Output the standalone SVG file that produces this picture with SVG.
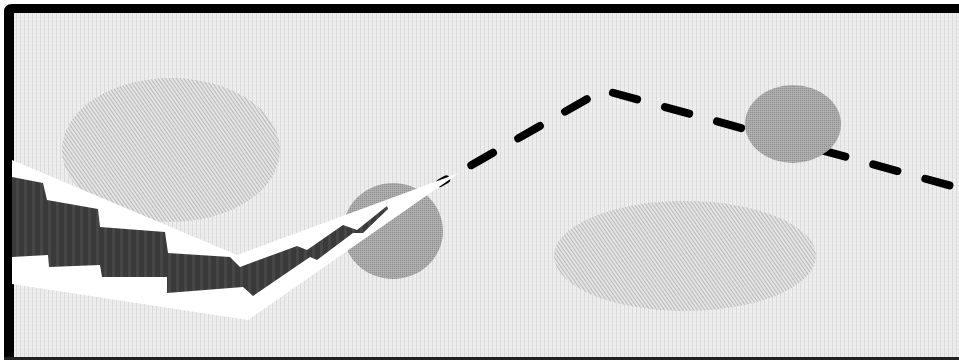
<svg xmlns="http://www.w3.org/2000/svg" width="959" height="364" viewBox="0 0 959 364">
  <style>
    .hatch { fill: url(#hatch); }
    .dots { fill: url(#dots); }
    .dash { fill: none; stroke: #000; stroke-width: 8; stroke-linecap: round; stroke-linejoin: round; stroke-dasharray: 25 29; stroke-dashoffset: 18; }
  </style>
  <defs>
    <pattern id="bg" width="4" height="4" patternUnits="userSpaceOnUse">
      <rect width="4" height="4" fill="#eeeeee"/>
      <rect x="0" y="0" width="1" height="4" fill="#dadada"/>
      <rect x="2" y="1" width="1" height="1" fill="#e0e0e0"/>
    </pattern>
    <pattern id="hatch" width="3" height="3" patternUnits="userSpaceOnUse" patternTransform="rotate(-35)">
      <rect width="3" height="3" fill="#e4e4e4"/>
      <rect x="0" y="0" width="1" height="3" fill="#b8b8b8"/>
    </pattern>
    <pattern id="dots" width="2" height="2" patternUnits="userSpaceOnUse">
      <rect width="2" height="2" fill="#aaaaaa"/>
      <rect x="0" y="0" width="1" height="1" fill="#8e8e8e"/>
      <rect x="1" y="1" width="1" height="1" fill="#b4b4b4"/>
    </pattern>
    <pattern id="stripes" width="8" height="8" patternUnits="userSpaceOnUse">
      <rect width="8" height="8" fill="#3a3a3a"/>
      <rect x="0" y="0" width="3" height="8" fill="#474747"/>
    </pattern>
  </defs>

  <rect width="959" height="364" fill="#ffffff"/>
  <g id="frame">
    <rect x="9" y="8" width="960" height="350" fill="url(#bg)"/>
    <path d="M4,360 L4,12 Q4,4 12,4 L959,4 L959,13 L14,13 L14,360 Z" fill="#000"/>
    <rect x="4" y="357" width="955" height="3" fill="#222"/>
  </g>

  <g id="ellipses">
    <ellipse id="ellipse-left" class="hatch" cx="171" cy="150" rx="109" ry="72"/>
    <ellipse id="ellipse-bottom" class="hatch" cx="685" cy="256" rx="131" ry="55"/>
  </g>

  <g id="connectors">
    <path class="dash" d="M440,183 L603,90 L959,188"/>
  </g>

  <g id="circles">
    <ellipse id="circle-right" class="dots" cx="793" cy="124" rx="48" ry="39"/>
    <ellipse id="circle-left" class="dots" cx="393" cy="231" rx="50" ry="48"/>
  </g>

  <g id="bolt">
    <polygon fill="#ffffff" points="12,160 237,255 459,173 248,320 12,284"/>
    <polygon fill="url(#stripes)" points="12,177 43,183 47,200 98,209 100,227 165,232 168,253 230,257 240,267 297,246 307,250 343,225 357,230 387,206 388,209 363,233 353,233 317,260 310,257 253,296 243,287 167,293 167,277 102,277 100,265 49,267 48,255 12,257"/>
  </g>
</svg>
